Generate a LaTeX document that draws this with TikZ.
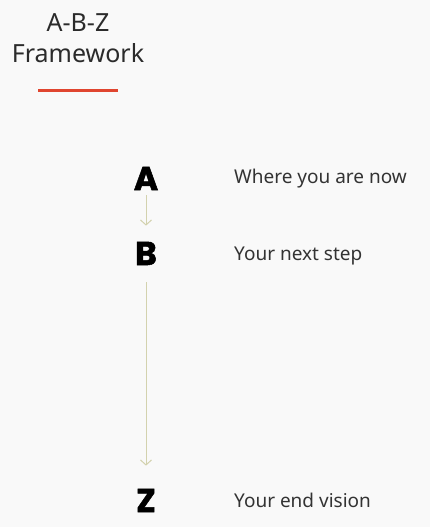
\documentclass[tikz,border=0pt]{standalone}
\usepackage{fontspec}
\setmainfont{Noto Sans}
\newfontfamily\heavyfont{Poppins}[FakeBold=1.5]
\usepackage{xcolor}
\usetikzlibrary{arrows.meta}
\definecolor{bgcol}{HTML}{F9F9F9}
\definecolor{titlecol}{HTML}{2B2B2B}
\definecolor{redline}{HTML}{E0452F}
\definecolor{arrowcol}{HTML}{D3D2AE}
\definecolor{textcol}{HTML}{333333}
\tikzset{
  letter/.style={font=\heavyfont\bfseries\fontsize{33}{33}\selectfont, text=black, inner sep=0pt, anchor=base},
  desc/.style={font=\fontsize{19}{19}\selectfont, text=textcol, inner sep=0pt, anchor=base west},
  flow/.style={arrowcol, line width=1pt, -{Straight Barb[length=5pt,width=11pt]}}
}
\begin{document}
\begin{tikzpicture}[x=1pt,y=-1pt]
% Background and bounds
\fill[bgcol] (0,0) rectangle (430,527);
\useasboundingbox (0,0) rectangle (430,527);

% Title
\node[font=\fontsize{25}{31}\selectfont, text=titlecol, align=center, inner sep=0pt, anchor=base] (title) at (78,63) {A-B-Z\\Framework};
\draw[redline, line width=3pt] (38,90) -- (118,90);

% Steps
\node[letter] (A) at (146,190) {A};
\node[letter] (B) at (146,265) {B};
\node[letter] (Z) at (146,512) {Z};

% Descriptions
\node[desc] (whereA) at (234,183) {Where you are now};
\node[desc] (whereB) at (234,260) {Your next step};
\node[desc] (whereZ) at (234,507) {Your end vision};

% Arrows
\draw[flow, shorten <=5pt, shorten >=16pt] (A.south) -- (B.north);
\draw[flow, shorten <=17pt, shorten >=23pt] (B.south) -- (Z.north);
\end{tikzpicture}
\end{document}
